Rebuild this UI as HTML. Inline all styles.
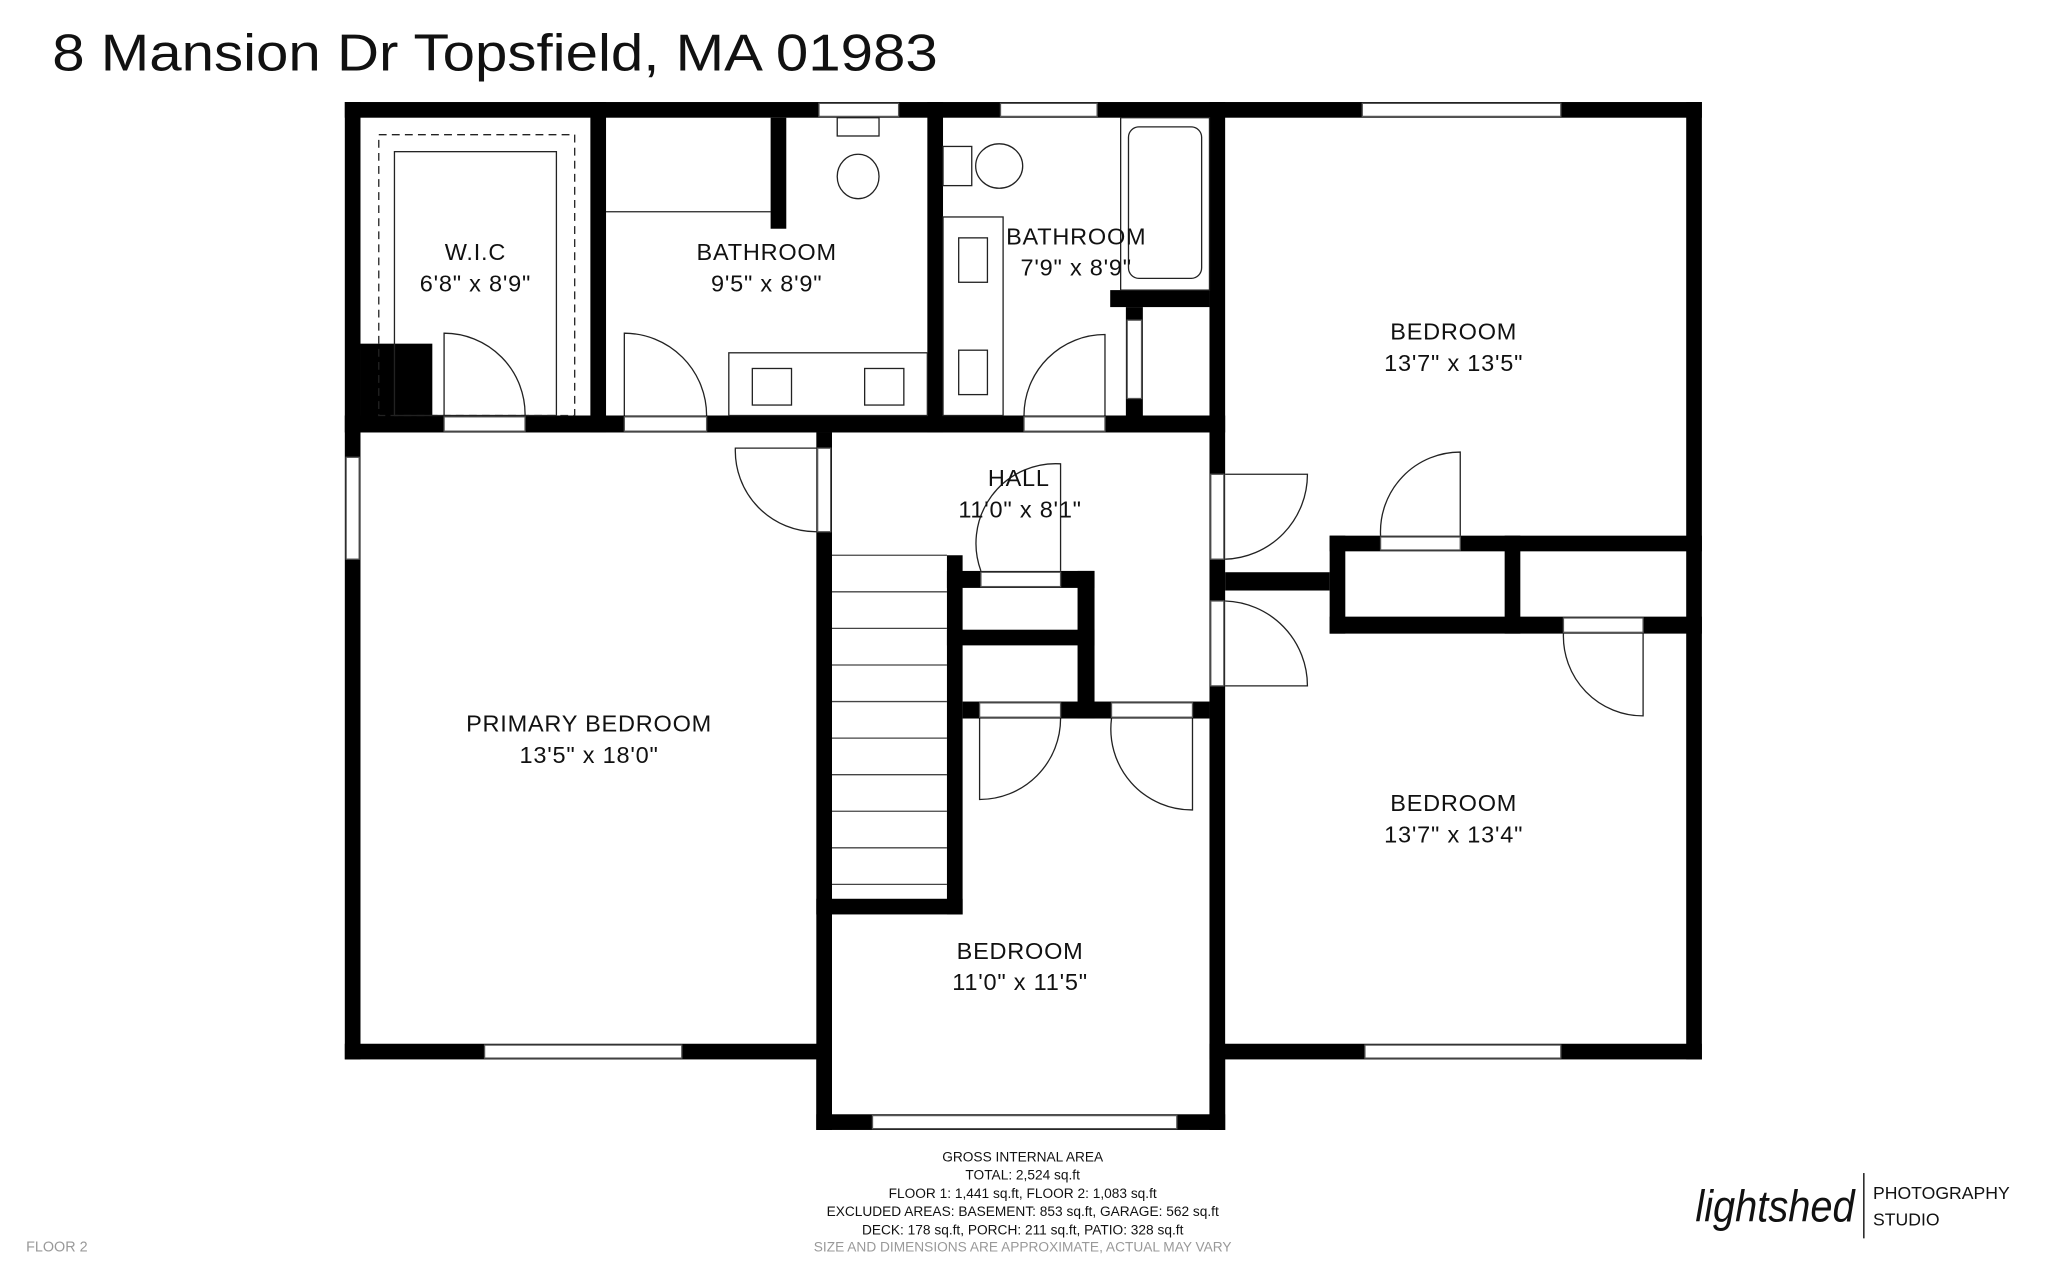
<!DOCTYPE html>
<html><head><meta charset="utf-8"><style>
html,body{margin:0;padding:0;background:#fff;}
svg{display:block;}
text{font-family:"Liberation Sans",sans-serif;fill:#111;}
</style></head><body>
<svg width="2048" height="1279" viewBox="0 0 1568 979" xmlns="http://www.w3.org/2000/svg">
<rect width="1568" height="979" fill="#fff"/>
<text x="40" y="54" font-size="40" textLength="678" lengthAdjust="spacingAndGlyphs">8 Mansion Dr Topsfield, MA 01983</text>
<g fill="#000">
<rect x="264" y="78" width="1039" height="12"/>
<rect x="264" y="78" width="12" height="733"/>
<rect x="264" y="799" width="373" height="12"/>
<rect x="625" y="799" width="12" height="66"/>
<rect x="625" y="853" width="313" height="12"/>
<rect x="926" y="799" width="12" height="66"/>
<rect x="926" y="799" width="377" height="12"/>
<rect x="1291" y="78" width="12" height="733"/>
<rect x="264" y="318" width="674" height="13"/>
<rect x="452" y="78" width="12" height="253"/>
<rect x="710" y="78" width="12" height="253"/>
<rect x="926" y="78" width="12" height="787"/>
<rect x="276" y="263" width="55" height="55"/>
<rect x="590" y="90" width="12" height="85"/>
<rect x="850" y="222" width="76" height="13"/>
<rect x="862" y="235" width="13" height="83"/>
<rect x="625" y="331" width="12" height="534"/>
<rect x="725" y="425" width="12" height="275"/>
<rect x="625" y="688" width="112" height="12"/>
<rect x="725" y="437" width="113" height="13"/>
<rect x="825" y="437" width="13" height="113"/>
<rect x="725" y="482" width="113" height="12"/>
<rect x="737" y="537" width="189" height="13"/>
<rect x="938" y="438" width="80" height="14"/>
<rect x="1018" y="410" width="285" height="12"/>
<rect x="1018" y="472" width="285" height="13"/>
<rect x="1018" y="410" width="12" height="75"/>
<rect x="1152" y="410" width="12" height="75"/>
</g>
<g fill="#fff" stroke="#555" stroke-width="1">
<rect x="627" y="79" width="61" height="10"/><rect x="766" y="79" width="74" height="10"/><rect x="1043" y="79" width="152" height="10"/>
<rect x="265" y="350" width="10" height="78"/>
<rect x="371" y="800" width="151" height="10"/><rect x="668" y="854" width="233" height="10"/><rect x="1045" y="800" width="150" height="10"/>
<rect x="340" y="319" width="62" height="11"/><rect x="478" y="319" width="63" height="11"/><rect x="784" y="319" width="62" height="11"/>
<rect x="626" y="343" width="10" height="64"/>
<rect x="927" y="363" width="10" height="65"/><rect x="927" y="460" width="10" height="65"/>
<rect x="751" y="438" width="61" height="11"/>
<rect x="750" y="538" width="62" height="11"/><rect x="851" y="538" width="62" height="11"/>
<rect x="1057" y="411" width="61" height="10"/><rect x="1197" y="473" width="61" height="11"/>
<rect x="863" y="245" width="11" height="60"/>
</g>
<g fill="none" stroke="#222" stroke-width="1">
<path d="M340 318 V255 A62 62 0 0 1 402 318"/>
<path d="M478 318 V255 A63 63 0 0 1 541 318"/>
<path d="M846 318 V256 A62 62 0 0 0 784 318"/>
<path d="M625 343 H563 A62 62 0 0 0 625 407"/>
<path d="M938 363 H1001 A65 65 0 0 1 938 428"/>
<path d="M938 525 H1001 A65 65 0 0 0 938 460"/>
<path d="M812 437 V355 A61 61 0 0 0 751 437"/>
<path d="M750 550 V612 A62 62 0 0 0 812 550"/>
<path d="M913 550 V620 A62 62 0 0 1 851 550"/>
<path d="M1118 410 V346 A61 61 0 0 0 1057 410"/>
<path d="M1258 485 V548 A61 61 0 0 1 1197 485"/>
<rect x="290" y="103" width="150" height="215" stroke-dasharray="6 4"/>
<rect x="302" y="116" width="124" height="202"/>
<line x1="464" y1="162" x2="590" y2="162"/>
<rect x="558" y="270" width="152" height="48"/>
<ellipse cx="657" cy="135" rx="16" ry="17"/><rect x="641" y="90" width="32" height="14"/>
<rect x="576" y="282" width="30" height="28"/><rect x="662" y="282" width="30" height="28"/>
<rect x="722" y="166" width="46" height="152"/>
<rect x="734" y="182" width="22" height="34"/><rect x="734" y="268" width="22" height="34"/>
<ellipse cx="765" cy="127" rx="18" ry="17"/><rect x="722" y="112" width="22" height="30"/>
<rect x="858" y="90" width="68" height="132"/><rect x="864" y="97" width="56" height="116" rx="8"/>
<g stroke="#444">
<line x1="637" y1="425" x2="725" y2="425"/><line x1="637" y1="453" x2="725" y2="453"/><line x1="637" y1="481" x2="725" y2="481"/>
<line x1="637" y1="509" x2="725" y2="509"/><line x1="637" y1="537" x2="725" y2="537"/><line x1="637" y1="565" x2="725" y2="565"/>
<line x1="637" y1="593" x2="725" y2="593"/><line x1="637" y1="621" x2="725" y2="621"/><line x1="637" y1="649" x2="725" y2="649"/>
<line x1="637" y1="677" x2="725" y2="677"/>
</g>
</g>
<g font-size="18" text-anchor="middle" letter-spacing="0.6">
<text x="364" y="199">W.I.C</text><text x="364" y="223">6'8" x 8'9"</text>
<text x="587" y="199">BATHROOM</text><text x="587" y="223">9'5" x 8'9"</text>
<text x="824" y="187">BATHROOM</text><text x="824" y="211">7'9" x 8'9"</text>
<text x="1113" y="260">BEDROOM</text><text x="1113" y="284">13'7" x 13'5"</text>
<text x="780" y="372">HALL</text><text x="781" y="396">11'0" x 8'1"</text>
<text x="451" y="560">PRIMARY BEDROOM</text><text x="451" y="584">13'5" x 18'0"</text>
<text x="1113" y="621">BEDROOM</text><text x="1113" y="645">13'7" x 13'4"</text>
<text x="781" y="734">BEDROOM</text><text x="781" y="758">11'0" x 11'5"</text>
</g>
<g font-size="10.5" text-anchor="middle">
<text x="783" y="889">GROSS INTERNAL AREA</text>
<text x="783" y="903">TOTAL: 2,524 sq.ft</text>
<text x="783" y="917">FLOOR 1: 1,441 sq.ft, FLOOR 2: 1,083 sq.ft</text>
<text x="783" y="931">EXCLUDED AREAS: BASEMENT: 853 sq.ft, GARAGE: 562 sq.ft</text>
<text x="783" y="945">DECK: 178 sq.ft, PORCH: 211 sq.ft, PATIO: 328 sq.ft</text>
<text x="783" y="958" style="fill:#999">SIZE AND DIMENSIONS ARE APPROXIMATE, ACTUAL MAY VARY</text>
</g>
<text x="20" y="958" font-size="11" style="fill:#999">FLOOR 2</text>
<text x="1298" y="935" font-size="34" font-style="italic" font-family="Liberation Serif" textLength="122" lengthAdjust="spacingAndGlyphs">lightshed</text>
<line x1="1427" y1="898" x2="1427" y2="948" stroke="#000" stroke-width="1"/>
<text x="1434" y="918" font-size="13.5">PHOTOGRAPHY</text>
<text x="1434" y="938" font-size="13.5">STUDIO</text>
</svg>
</body></html>
